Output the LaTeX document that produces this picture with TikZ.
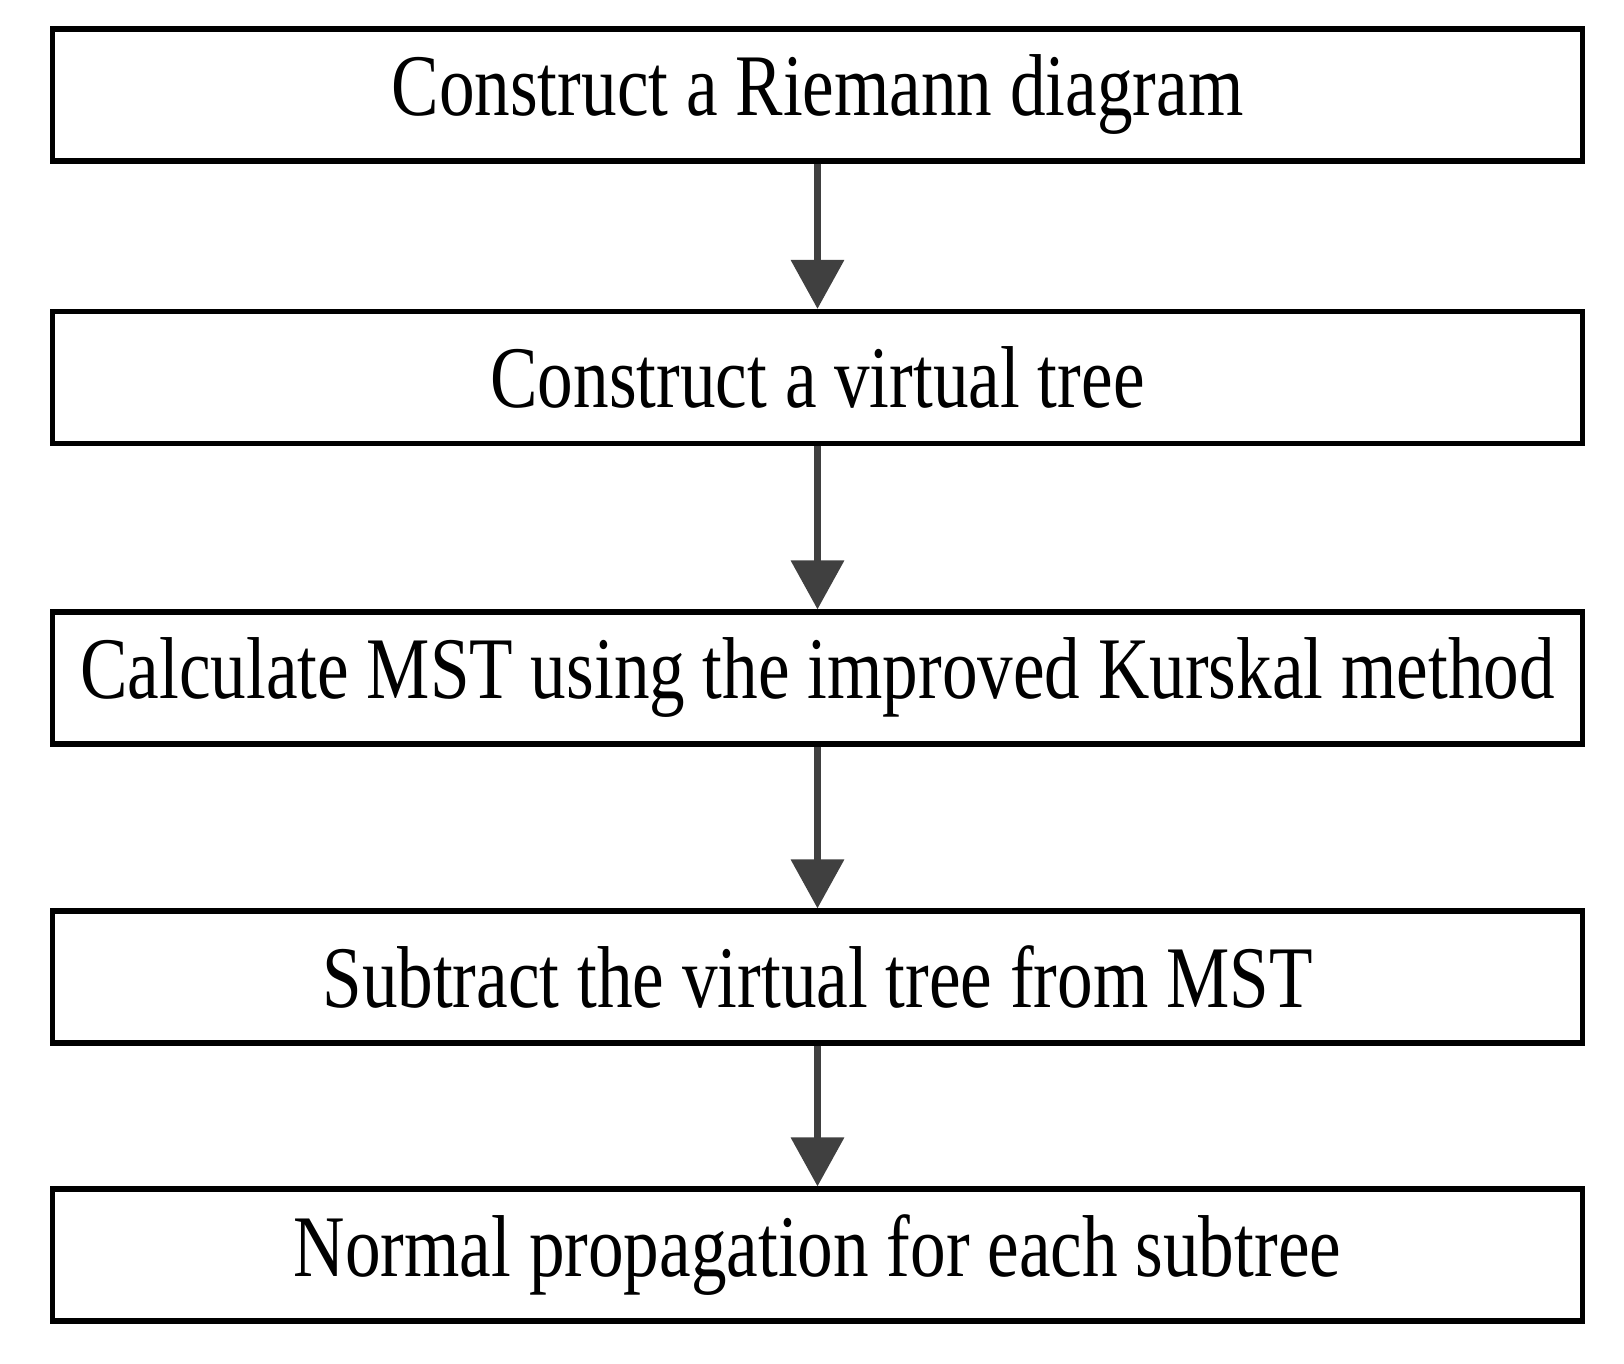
\documentclass[tikz,border=0pt]{standalone}
\usepackage{fontspec}
\setmainfont{Liberation Serif}[FakeStretch=0.81]
\usetikzlibrary{arrows.meta}
\definecolor{arrowgray}{HTML}{404040}
\tikzset{
  stepbox/.style={draw=black, line width=3pt, minimum width=30.62cm, minimum height=2.64cm,
    font=\fontsize{50}{60}\selectfont, inner sep=0pt},
  flow/.style={draw=arrowgray, line width=0.14cm, -{Triangle[length=0.98cm, width=1.04cm]}}
}
\begin{document}
\begin{tikzpicture}[x=0.02cm, y=-0.02cm]
  \useasboundingbox (0,0) rectangle (1624,1364);

  % Steps
  \node[stepbox] (riemann) at (817.5,95) {Construct a Riemann diagram};
  \node[stepbox] (virtual) at (817.5,377.5) {Construct a virtual tree};
  \node[stepbox] (mst) at (817.5,678) {Calculate MST using the improved Kurskal method};
  \node[stepbox] (subtract) at (817.5,977) {Subtract the virtual tree from MST};
  \node[stepbox] (normal) at (817.5,1255) {Normal propagation for each subtree};

  % Connectors
  \draw[flow] (riemann) -- (virtual);
  \draw[flow] (virtual) -- (mst);
  \draw[flow] (mst) -- (subtract);
  \draw[flow] (subtract) -- (normal);
\end{tikzpicture}
\end{document}
